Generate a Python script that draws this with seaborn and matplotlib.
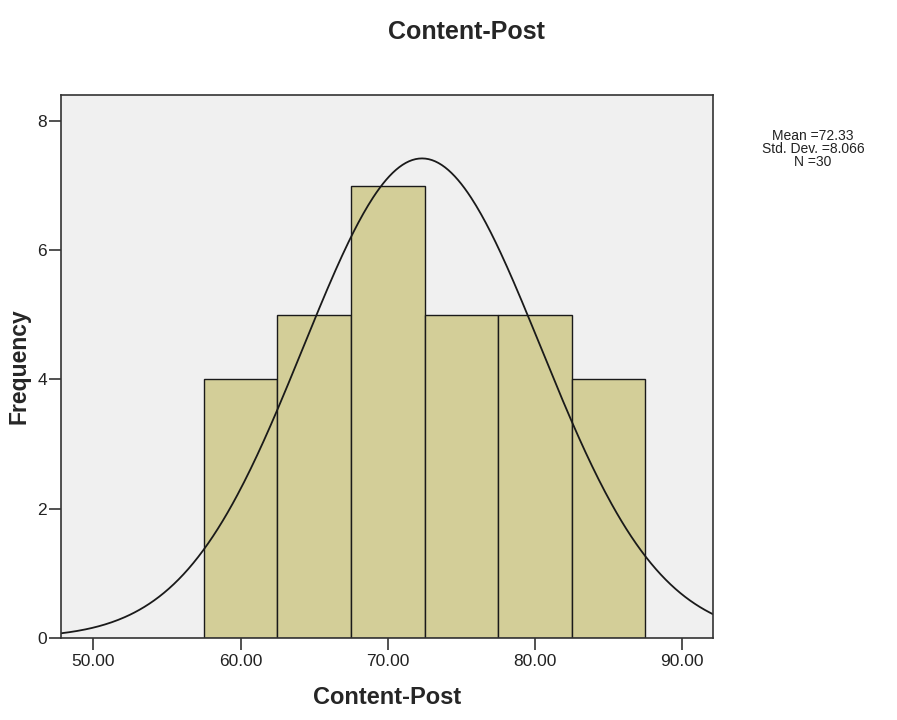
import numpy as np
import pandas as pd
import seaborn as sns
import matplotlib
matplotlib.use("Agg")
import matplotlib.pyplot as plt

# Histogram of Content-Post scores (bins of width 5)
bin_centers = [60.0, 65.0, 70.0, 75.0, 80.0, 85.0]
bin_counts = [4, 5, 7, 5, 5, 4]
bin_width = 5.0

# Summary statistics shown beside the chart
stat_mean = 72.33
stat_sd = 8.066
stat_n = 30

x_ticks = [50.0, 60.0, 70.0, 80.0, 90.0]
y_ticks = [0, 2, 4, 6, 8]

sns.set_theme(style="white")
plt.rcParams["font.family"] = ["Liberation Sans", "DejaVu Sans"]

fig = plt.figure(figsize=(8.97, 7.2), dpi=100)
ax = fig.add_axes([61 / 897, 1 - 638 / 720, (713 - 61) / 897, (638 - 95) / 720])
ax.set_facecolor("#F0F0F0")

df = pd.DataFrame({"score": bin_centers, "count": bin_counts})
edges = [c - bin_width / 2 for c in bin_centers] + [bin_centers[-1] + bin_width / 2]
sns.histplot(data=df, x="score", weights="count", bins=edges, ax=ax,
             color="#D3CE98", alpha=1.0, edgecolor="#1a1a1a", linewidth=1.0)

# Normal curve scaled to the histogram
xs = np.linspace(47.8, 92.1, 400)
ys = stat_n * bin_width * np.exp(-0.5 * ((xs - stat_mean) / stat_sd) ** 2) / (stat_sd * np.sqrt(2 * np.pi))
sns.lineplot(x=xs, y=ys, ax=ax, color="#1a1a1a", linewidth=1.3)

ax.set_xlim(47.8, 92.1)
ax.set_ylim(0, 8.4)
ax.set_xticks(x_ticks)
ax.set_xticklabels([f"{t:.2f}" for t in x_ticks], fontsize=12.5)
ax.set_yticks(y_ticks)
ax.set_yticklabels([str(t) for t in y_ticks], fontsize=12.5)
ax.tick_params(axis="both", direction="out", length=8.5, width=1.2, color="#333333",
               bottom=True, left=True, pad=1.5, labelcolor="#222222")
ax.tick_params(axis="x", pad=3)
for s in ax.spines.values():
    s.set_color("#333333")
    s.set_linewidth(1.2)

ax.set_xlabel("Content-Post", fontsize=17, fontweight="bold", labelpad=12)
ax.set_ylabel("Frequency", fontsize=16.5, fontweight="bold")
ax.yaxis.set_label_coords(-0.047, 0.5)

fig.text(466 / 897, 1 - 32 / 720, "Content-Post", ha="center", va="center",
         fontsize=18, fontweight="bold")
fig.text(813 / 897, 1 - 149 / 720,
         f"Mean ={stat_mean:.2f}\nStd. Dev. ={stat_sd:.3f}\nN ={stat_n}",
         ha="center", va="center", fontsize=10, linespacing=0.95, color="#222222")

fig.savefig("out.png", dpi=100, facecolor="white")
